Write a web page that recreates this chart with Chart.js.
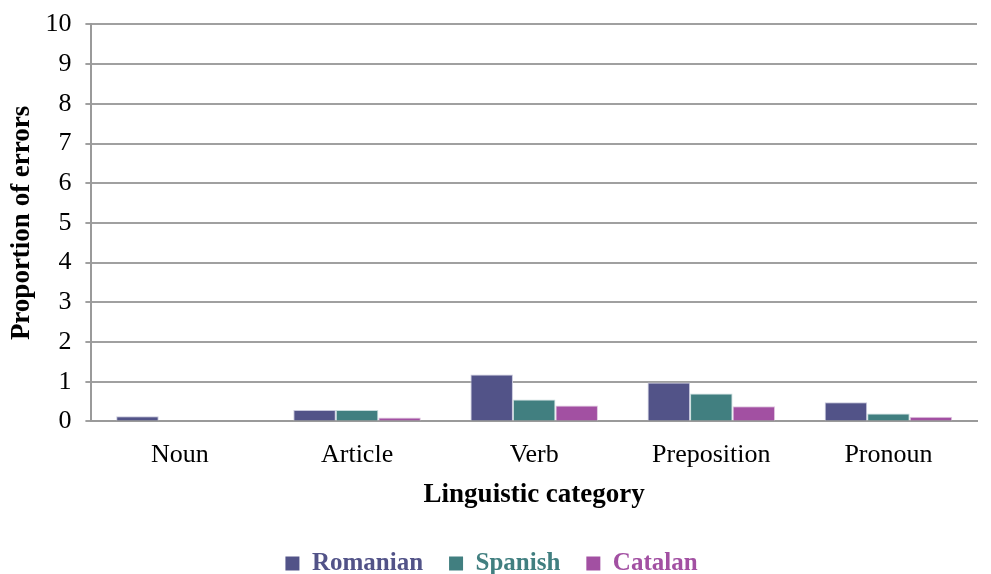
<!DOCTYPE html>
<html>
<head>
<meta charset="utf-8">
<script src="https://cdn.jsdelivr.net/npm/chart.js@4.4.0/dist/chart.umd.min.js"></script>
<style>
  html, body { margin: 0; padding: 0; background: #fff; }
  #wrap { width: 991px; height: 574px; }
</style>
</head>
<body>
<div id="wrap"><canvas id="errorsChart"></canvas></div>
<script>
const categories = ['Noun', 'Article', 'Verb', 'Preposition', 'Pronoun'];
const romanian = [0.13, 0.29, 1.18, 0.98, 0.48];
const spanish = [0.02, 0.29, 0.55, 0.70, 0.20];
const catalan = [0.02, 0.10, 0.40, 0.38, 0.12];
const yTicks = [0, 1, 2, 3, 4, 5, 6, 7, 8, 9, 10];

const serif = "'Liberation Serif', 'Times New Roman', serif";

const ctx = document.getElementById('errorsChart').getContext('2d');
const errorsChart = new Chart(ctx, {
    type: 'bar',
    data: {
        labels: categories,
        datasets: [
            { label: 'Romanian', data: romanian, backgroundColor: '#525388', borderColor: '#c8c8dc', borderWidth: 1 },
            { label: 'Spanish', data: spanish, backgroundColor: '#417f80', borderColor: '#c8dcdc', borderWidth: 1 },
            { label: 'Catalan', data: catalan, backgroundColor: '#a250a2', borderColor: '#e0c8e0', borderWidth: 1 }
        ]
    },
    options: {
        responsive: true,
        maintainAspectRatio: false,
        animation: false,
        layout: { padding: { left: 6, right: 14, top: 4, bottom: -12 } },
        datasets: { bar: { categoryPercentage: 0.72, barPercentage: 1.0 } },
        scales: {
            x: {
                grid: { display: false },
                border: { color: '#9a9a9a', width: 2 },
                ticks: { color: '#000', font: { family: serif, size: 26 }, padding: 10 },
                title: { display: true, text: 'Linguistic category', color: '#000', font: { family: serif, size: 27, weight: 'bold' }, padding: { top: -2, bottom: 14 } }
            },
            y: {
                min: 0,
                max: 10,
                afterBuildTicks: axis => { axis.ticks = yTicks.map(v => ({ value: v })); },
                grid: { color: '#a0a0a0', lineWidth: 2, tickLength: 6, tickColor: '#a0a0a0' },
                border: { color: '#9a9a9a', width: 2 },
                ticks: { color: '#000', font: { family: serif, size: 26, lineHeight: 0.8 }, padding: 14 },
                title: { display: true, text: 'Proportion of errors', color: '#000', font: { family: serif, size: 27, weight: 'bold' }, padding: { top: 0, bottom: -7 } }
            }
        },
        plugins: {
            legend: {
                position: 'bottom',
                labels: {
                    boxWidth: 14,
                    boxHeight: 14,
                    padding: 26,
                    font: { family: serif, size: 25, weight: 'bold' },
                    generateLabels: chart => {
                        const items = Chart.defaults.plugins.legend.labels.generateLabels(chart);
                        items.forEach(it => {
                            it.fontColor = it.fillStyle;
                            it.strokeStyle = it.fillStyle;
                            it.lineWidth = 0;
                        });
                        return items;
                    }
                }
            },
            tooltip: { enabled: false }
        }
    }
});
</script>
</body>
</html>
